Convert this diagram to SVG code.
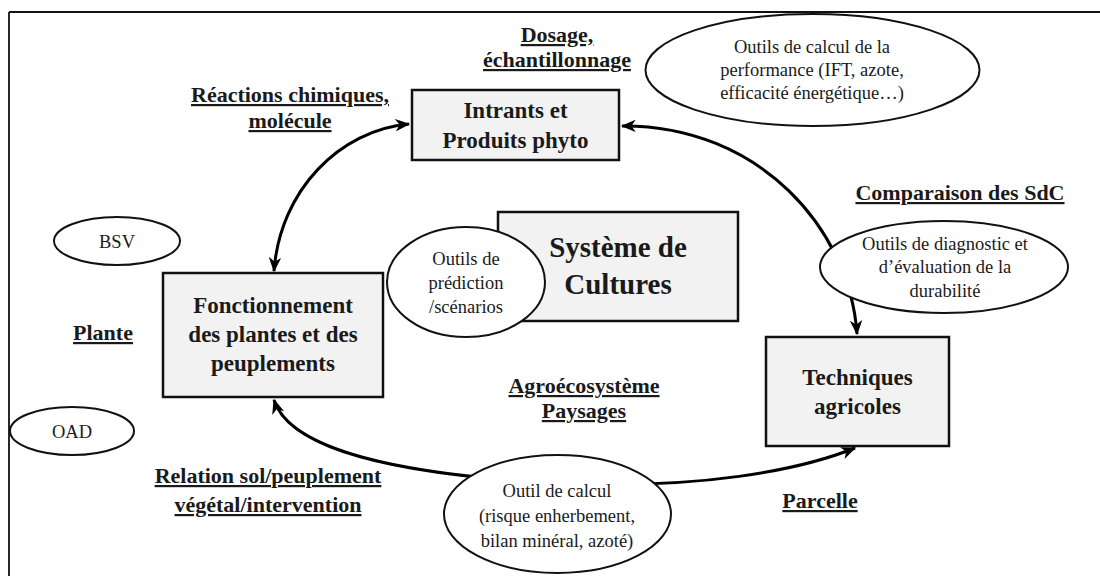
<svg xmlns="http://www.w3.org/2000/svg" width="1100" height="576" viewBox="0 0 1100 576">
<style>
.box{fill:#f2f2f2;stroke:#111;stroke-width:2.5}
.ell{fill:#fff;stroke:#111;stroke-width:2}
.bt{font-family:"Liberation Serif",serif;font-weight:bold;font-size:23px;fill:#1a1a1a;text-anchor:middle}
.big{font-size:29px}
.et{font-family:"Liberation Serif",serif;font-size:18.5px;fill:#1a1a1a;text-anchor:middle}
.lb{font-family:"Liberation Serif",serif;font-weight:bold;font-size:22px;fill:#1a1a1a;text-anchor:middle;text-decoration:underline}
.con{fill:none;stroke:#000;stroke-width:3}
</style>
<defs>
<marker id="ah" viewBox="0 0 12 10" refX="11" refY="5" markerWidth="5" markerHeight="4.2" orient="auto-start-reverse" markerUnits="strokeWidth">
<path d="M0,0 L12,5 L0,10 L3.5,5 z" fill="#000"/>
</marker>
</defs>
<rect width="1100" height="576" fill="#fff"/>
<g id="frame">
<line x1="9" y1="12" x2="1100" y2="12" stroke="#111" stroke-width="1.8"/>
<line x1="9" y1="12" x2="9" y2="576" stroke="#111" stroke-width="1.8"/>
</g>
<g id="connectors">
<path class="con" d="M274,271 C280,190 340,130 409,124" marker-start="url(#ah)" marker-end="url(#ah)"/>
<path class="con" d="M622,126 C760,125 850,230 857,334" marker-start="url(#ah)" marker-end="url(#ah)"/>
<path class="con" d="M274,400 C290,450 400,475 557,483 C700,490 800,470 855,448" marker-start="url(#ah)" marker-end="url(#ah)"/>
</g>
<g id="intrants">
<rect class="box" x="412" y="90" width="207" height="70"/>
<text class="bt" x="515.5" y="118">Intrants et</text>
<text class="bt" x="515.5" y="148">Produits phyto</text>
</g>
<g id="fonctionnement">
<rect class="box" x="163" y="273" width="220" height="124"/>
<text class="bt" x="273" y="313">Fonctionnement</text>
<text class="bt" x="273" y="342">des plantes et des</text>
<text class="bt" x="273" y="371">peuplements</text>
</g>
<g id="systeme">
<rect class="box" x="498" y="212" width="240" height="109"/>
<text class="bt big" x="618" y="257">Système de</text>
<text class="bt big" x="618" y="294">Cultures</text>
</g>
<g id="techniques">
<rect class="box" x="766" y="337" width="183" height="109"/>
<text class="bt" x="857.5" y="385">Techniques</text>
<text class="bt" x="857.5" y="414">agricoles</text>
</g>
<g id="outils-prediction">
<ellipse class="ell" cx="466" cy="282" rx="79" ry="55"/>
<text class="et" x="466" y="265">Outils de</text>
<text class="et" x="466" y="289">prédiction</text>
<text class="et" x="466" y="313">/scénarios</text>
</g>
<g id="outils-performance">
<ellipse class="ell" cx="812.5" cy="70" rx="167" ry="56"/>
<text class="et" x="812" y="53">Outils de calcul de la</text>
<text class="et" x="812" y="76">performance (IFT, azote,</text>
<text class="et" x="812" y="99">efficacité énergétique…)</text>
</g>
<g id="outils-diagnostic">
<ellipse class="ell" cx="944" cy="267" rx="124" ry="46"/>
<text class="et" x="945" y="250">Outils de diagnostic et</text>
<text class="et" x="945" y="273">d’évaluation de la</text>
<text class="et" x="945" y="297">durabilité</text>
</g>
<g id="outil-calcul">
<ellipse class="ell" cx="557.5" cy="514" rx="113.5" ry="59"/>
<text class="et" x="557" y="497">Outil de calcul</text>
<text class="et" x="557" y="522">(risque enherbement,</text>
<text class="et" x="557" y="547">bilan minéral, azoté)</text>
</g>
<g id="bsv">
<ellipse class="ell" cx="117" cy="241" rx="63" ry="24"/>
<text class="et" x="117" y="248">BSV</text>
</g>
<g id="oad">
<ellipse class="ell" cx="72" cy="431" rx="62" ry="24"/>
<text class="et" x="72" y="438">OAD</text>
</g>
<g id="labels">
<text class="lb" x="290" y="102">Réactions chimiques,</text>
<text class="lb" x="290" y="128">molécule</text>
<text class="lb" x="557" y="42">Dosage,</text>
<text class="lb" x="557" y="67">échantillonnage</text>
<text class="lb" x="960" y="200">Comparaison des SdC</text>
<text class="lb" x="103" y="340">Plante</text>
<text class="lb" x="584" y="393">Agroécosystème</text>
<text class="lb" x="584" y="418">Paysages</text>
<text class="lb" x="268" y="483">Relation sol/peuplement</text>
<text class="lb" x="268" y="512">végétal/intervention</text>
<text class="lb" x="820" y="508">Parcelle</text>
</g>
</svg>
